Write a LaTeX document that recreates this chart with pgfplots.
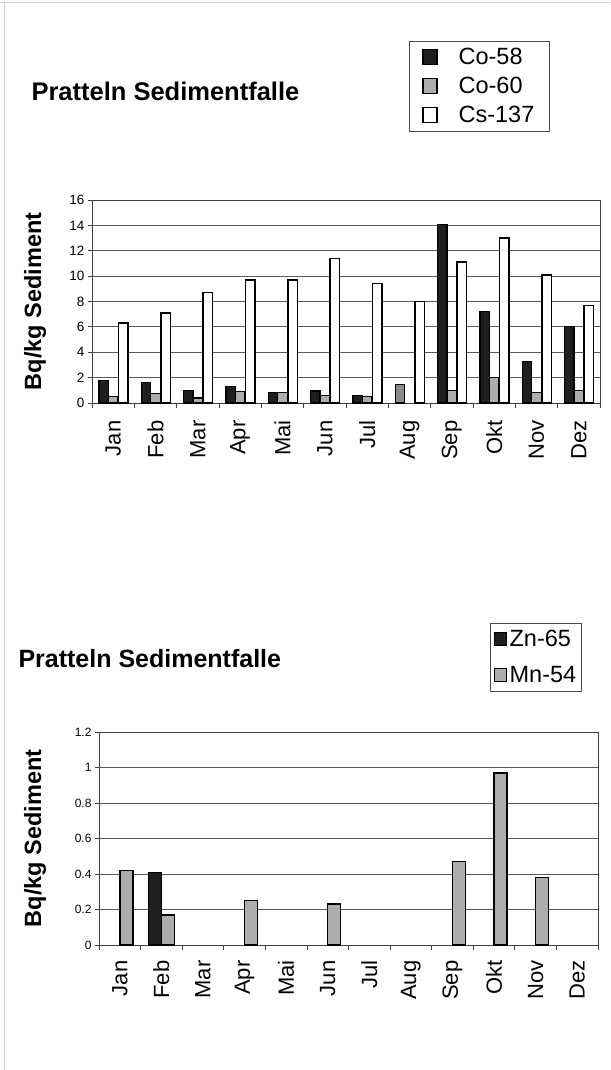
\documentclass[border=0pt]{standalone}
\usepackage{pgfplots}
\pgfplotsset{compat=1.18}
\usepackage{fontspec}
\setmainfont{Liberation Sans}
\newcommand\fsz[2]{\fontsize{#1}{#2}\selectfont}
\definecolor{barg}{gray}{0.68}
\definecolor{barg2}{gray}{0.55}
\pgfplotsset{
  common/.style={
    scale only axis,
    xmin=-0.5, xmax=11.5,
    xtick={0,...,11},
    xticklabels={Jan,Feb,Mar,Apr,Mai,Jun,Jul,Aug,Sep,Okt,Nov,Dez},
    minor xtick={-0.5,0.5,...,11.5},
    tick align=outside,
    tick pos=left,
    major x tick style={draw=none},
    minor x tick style={black!75, line width=0.8pt},
    y tick style={black!75, line width=0.8pt},
    minor tick length=5pt, major tick length=4pt,
    ymajorgrids, grid style={black!65, line width=0.8pt},
    axis line style={black!75, line width=1pt},
    /pgf/number format/assume math mode=true,
    x tick label style={rotate=90, anchor=east, font=\fsz{22}{26}},
    ylabel={Bq/kg Sediment},
    ybar,
    legend cell align=left,
  },
}
\begin{document}
\begin{tikzpicture}
\path[use as bounding box] (0pt,0pt) rectangle (610pt,-1070pt);
\draw[black!18, line width=0.5pt] (4pt,-2pt) -- (4pt,-1070pt);
\draw[black!18, line width=0.5pt] (0pt,-2pt) -- (610pt,-2pt);

\node[anchor=west, font=\bfseries\fsz{25.5}{30}] at (28pt,-91pt) {Pratteln Sedimentfalle};
\node[anchor=west, font=\bfseries\fsz{25}{30}] at (15pt,-659pt) {Pratteln Sedimentfalle};

% ---------------- top chart
\begin{axis}[common,
  at={(92pt,-403pt)}, anchor=south west,
  width=508pt, height=203pt,
  ymin=0, ymax=16, ytick={0,2,...,16},
  y tick label style={font=\fsz{13.5}{16}},
  xticklabel shift=10pt,
  every axis y label/.style={at={(axis description cs:-0.112,0.5)}, rotate=90, anchor=center, font=\bfseries\fsz{23.5}{28}},
  bar width=9.5pt,
  legend style={at={(axis description cs:0.624,1.783)}, anchor=north west,
    draw=black!70, line width=0.8pt, font=\fsz{23.5}{28},
    row sep=7pt, inner xsep=13pt, inner ysep=5pt,
    /tikz/every odd column/.append style={column sep=19pt},
    /tikz/every even column/.append style={column sep=24pt}},
  legend image code/.code={\draw[#1, line width=1.2pt] (0pt,-7pt) rectangle (14pt,8pt);},
]
\addplot[bar shift=-9.5pt, fill=black!88, draw=black, line width=1.2pt] coordinates {
 (0,1.8) (1,1.6) (2,1.0) (3,1.3) (4,0.8) (5,0.95) (6,0.6) (8,14.1) (9,7.2) (10,3.3) (11,6.0)};
\addlegendentry{Co-58}
\addplot[bar shift=0pt, fill=barg, draw=black, line width=1.2pt] coordinates {
 (0,0.5) (1,0.75) (2,0.4) (3,0.9) (4,0.8) (5,0.6) (6,0.5) (8,1.0) (9,2.0) (10,0.8) (11,1.0)};
\addlegendentry{Co-60}
\addplot[bar shift=10pt, fill=white, draw=black, line width=1.5pt] coordinates {
 (0,6.3) (1,7.1) (2,8.7) (3,9.7) (4,9.7) (5,11.4) (6,9.4) (7,8.0) (8,11.1) (9,13.0) (10,10.1) (11,7.7)};
\addlegendentry{Cs-137}
\addplot[forget plot, bar shift=-9.5pt, fill=barg2, draw=black, line width=1.2pt] coordinates {(7,1.45)};
\end{axis}

% ---------------- bottom chart
\begin{axis}[common,
  at={(99pt,-945pt)}, anchor=south west,
  width=499pt, height=213pt,
  ymin=0, ymax=1.2, ytick={0,0.2,...,1.2},
  yticklabels={0,0.2,0.4,0.6,0.8,1,1.2},
  y tick label style={font=\fsz{12}{14}},
  xticklabel shift=8pt,
  every axis y label/.style={at={(axis description cs:-0.128,0.5)}, rotate=90, anchor=center, font=\bfseries\fsz{23.5}{28}},
  bar width=13pt,
  legend style={at={(axis description cs:0.784,1.512)}, anchor=north west,
    draw=black!70, line width=0.8pt, font=\fsz{23.5}{28},
    row sep=14pt, inner xsep=3pt, inner ysep=5pt,
    /tikz/every odd column/.append style={column sep=1pt}},
  legend image code/.code={\draw[#1, line width=1pt] (0pt,-6pt) rectangle (12pt,7pt);},
]
\addplot[bar shift=-6.5pt, fill=black!88, draw=black, line width=1.2pt] coordinates {(1,0.41)};
\addlegendentry{Zn-65}
\addplot[bar shift=6.5pt, fill=barg, draw=black, line width=1.5pt] coordinates {
 (0,0.42) (1,0.17) (3,0.25) (5,0.23) (8,0.47) (9,0.97) (10,0.38)};
\addlegendentry{Mn-54}
\end{axis}
\end{tikzpicture}
\end{document}
